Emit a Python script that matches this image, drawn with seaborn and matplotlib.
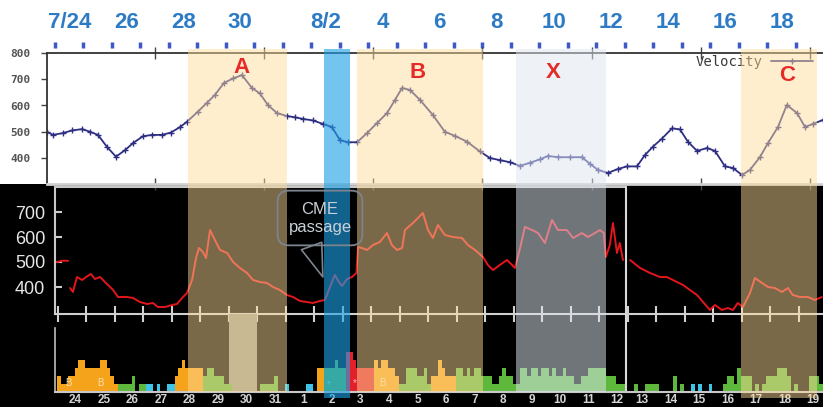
import numpy as np
import pandas as pd
import matplotlib
matplotlib.use("Agg")
import matplotlib.pyplot as plt
import matplotlib.ticker as mticker
from matplotlib.patches import Rectangle
import seaborn as sns

# ---------------- data ----------------
# day index: 0 = Jul 24 (start of day)
top_date_labels = ["7/24", "26", "28", "30", "8/2", "4", "6", "8", "10", "12", "14", "16", "18"]
top_date_days = [0, 2, 4, 6, 9, 11, 13, 15, 17, 19, 21, 23, 25]
day_boundaries = list(range(0, 27))
frame_tick_days = [3.5, 7.33, 11.16, 15.0, 18.84, 22.67, 26.5]

vel_days = [-0.28, -0.07, 0.28, 0.6, 0.95, 1.23, 1.51, 1.82, 2.14, 2.46, 2.74, 3.09, 3.4, 3.75,
            4.07, 4.39, 4.63, 5.02, 5.33, 5.61, 5.93, 6.25, 6.56, 6.91, 7.19, 7.47, 7.79, 8.14,
            8.42, 8.7, 9.05, 9.4, 9.72, 10.0, 10.28, 10.6, 10.95, 11.3, 11.65, 11.93, 12.18,
            12.46, 12.81, 13.26, 13.68, 14.04, 14.46, 14.91, 15.26, 15.61, 15.96, 16.32, 16.67,
            17.02, 17.3, 17.65, 18.07, 18.49, 18.77, 19.05, 19.4, 19.75, 20.07, 20.42, 20.7,
            20.98, 21.3, 21.65, 21.93, 22.21, 22.53, 22.88, 23.16, 23.51, 23.79, 24.11, 24.39,
            24.74, 25.02, 25.37, 25.68, 26.04, 26.32, 26.6, 26.95]
vel_kms = [500, 488, 495, 505, 510, 500, 488, 443, 405, 430, 457, 483, 488, 488,
           497, 518, 538, 577, 610, 640, 686, 703, 716, 667, 646, 602, 571, 560,
           555, 549, 543, 530, 518, 468, 460, 460, 495, 533, 571, 621, 667,
           659, 621, 564, 500, 484, 462, 425, 400, 392, 384, 370, 382,
           395, 408, 403, 403, 403, 378, 355, 343, 358, 368, 368, 411,
           443, 474, 513, 509, 462, 427, 438, 427, 368, 362, 335, 355,
           404, 457, 518, 602, 571, 518, 530, 545]

wind_a_days = [0.0, 0.25, 0.46]
wind_a_kms = [498, 505, 505]
wind_b_days = [0.53, 0.63, 0.77, 0.95, 1.09, 1.26, 1.40, 1.58, 1.75, 1.86, 2.04, 2.21, 2.53, 2.74,
               2.98, 3.23, 3.44, 3.61, 3.86, 4.11, 4.28, 4.46, 4.63, 4.81, 4.95, 5.05, 5.19, 5.30,
               5.44, 5.61, 5.79, 6.04, 6.25, 6.49, 6.74, 6.95, 7.19, 7.44, 7.65, 7.89, 8.14, 8.35,
               8.60, 8.84, 9.05, 9.30, 9.47, 9.65, 9.82, 9.96, 10.07, 10.25, 10.42, 10.58, 10.63,
               10.77, 10.95, 11.16, 11.40, 11.65, 11.82, 12.0, 12.18, 12.28, 12.56, 12.91, 13.09,
               13.26, 13.44, 13.68, 13.96, 14.28, 14.49, 14.74, 15.02, 15.19, 15.37, 15.61, 15.86,
               16.04, 16.14, 16.32, 16.49, 16.74, 16.95, 17.19, 17.44, 17.65, 17.96, 18.18, 18.49,
               18.70, 18.95, 19.12, 19.26, 19.33, 19.47, 19.58, 19.72, 19.82, 19.93]
wind_b_kms = [396, 380, 440, 428, 440, 452, 432, 440, 420, 408, 388, 360, 360, 356,
              340, 332, 336, 320, 320, 328, 332, 356, 376, 428, 516, 556, 540, 516,
              628, 588, 548, 536, 500, 476, 456, 428, 420, 416, 400, 388, 368, 360,
              344, 340, 336, 344, 348, 400, 448, 420, 404, 432, 440, 456, 560,
              556, 548, 568, 580, 616, 568, 548, 556, 628, 656, 696, 628,
              596, 648, 608, 600, 596, 568, 548, 520, 488, 468, 488, 508,
              488, 476, 556, 640, 628, 616, 576, 668, 628, 628, 596, 616,
              600, 616, 628, 616, 520, 568, 656, 536, 576, 508]
wind_c_days = [20.18, 20.53, 20.88, 21.23, 21.47, 21.68, 22.04, 22.28, 22.53, 22.74, 22.98, 23.16,
               23.40, 23.61, 23.79, 23.96, 24.14, 24.39, 24.56, 24.81, 25.02, 25.26, 25.51, 25.72,
               25.89, 26.14, 26.42, 26.67, 26.91]
wind_c_kms = [508, 476, 456, 440, 440, 428, 408, 388, 368, 340, 308, 328,
              308, 316, 308, 336, 320, 376, 436, 416, 400, 396, 380, 396,
              368, 360, 360, 348, 360]

bottom_day_labels = ["24", "25", "26", "27", "28", "29", "30", "31", "1", "2", "3", "4", "5", "6",
                     "7", "8", "9", "10", "11", "12", "13", "14", "15", "16", "17", "18", "19"]
# eight 3-hour activity levels per day, and the colour class of each bar
kp_levels = [
    [2, 1, 1, 2, 2, 3, 4, 4], [3, 3, 3, 3, 4, 4, 3, 2], [1, 1, 1, 1, 1, 2, 0, 1],
    [1, 1, 1, 0, 1, 0, 0, 1], [1, 2, 3, 4, 3, 3, 3, 3], [3, 2, 3, 3, 2, 2, 2, 1],
    [1, 0, 0, 0, 0, 0, 0, 0], [0, 1, 1, 1, 1, 2, 0, 0], [1, 0, 0, 0, 0, 0, 1, 1],
    [0, 3, 3, 3, 3, 3, 4, 3], [3, 5, 5, 4, 3, 3, 3, 3], [3, 4, 3, 4, 4, 3, 3, 2],
    [1, 1, 3, 3, 3, 2, 2, 3], [1, 2, 2, 4, 3, 2, 2, 2], [3, 3, 2, 3, 2, 3, 3, 2],
    [2, 2, 1, 1, 2, 3, 2, 2], [1, 1, 3, 3, 2, 3, 3, 2], [3, 3, 2, 3, 2, 2, 3, 2],
    [2, 1, 1, 2, 2, 3, 3, 3], [3, 3, 2, 2, 2, 1, 1, 1], [0, 0, 1, 0, 0, 1, 1, 1],
    [1, 0, 0, 0, 0, 2, 0, 1], [0, 0, 1, 0, 1, 0, 0, 1], [0, 0, 0, 1, 2, 2, 1, 3],
    [2, 2, 2, 0, 1, 0, 1, 2], [2, 2, 3, 3, 3, 2, 0, 1], [0, 0, 0, 2, 2, 2, 1, 1]]
kp_classes = ["OOOOOOOO", "OOOOOOOO", "OGGGGGGG", "GCCCCCCC", "COOOOOOO", "OGGGGGGG",
              "GGGGGGGG", "GGGGGGGG", "CCCCCCCC", "OOOGGGGG", "GRRRRRRR", "ROOOOOOO",
              "GGGGGGGG", "GOOOOOOO", "GGGGGGGG", "GGGGGGGG", "GGGGGGGG", "GGGGGGGG",
              "GGGGGGGG", "GGGGGGGG", "GGGGGGGG", "GGGGGGGG", "CCCCCCCC", "GGGGGGGG",
              "GGGGGGGG", "GGGGGGGG", "GGGGGGGG"]
gap_days = [6]

bar_mark_text = ["B", "B", "B", "+", "*"]
bar_mark_days = [0.47, 1.58, 11.5, 9.58, 10.53]

band_names = ["A", "CME", "B", "X", "C"]
band_start = [4.67, 9.44, 10.6, 16.18, 24.07]
band_end = [8.14, 10.35, 15.02, 19.33, 26.74]
band_kind = ["yellow", "blue", "yellow", "gray", "yellow"]
band_below_axis = [False, True, False, False, True]
letter_text = ["A", "B", "X", "C"]
letter_days = [6.56, 12.74, 17.47, 25.68]
letter_kms = [743, 724, 724, 716]

# ---------------- style ----------------
sns.set_theme(style="white")
plt.rcParams["font.family"] = ["Liberation Sans", "DejaVu Sans"]

W, H = 823, 407
fig = plt.figure(figsize=(W / 100, H / 100), dpi=100)
fig.patch.set_facecolor("white")
fig.patches.append(Rectangle((0, 0), 1, 1 - 184 / H, transform=fig.transFigure,
                             fc="black", ec="none", zorder=-1))

ax_top = fig.add_axes([47 / W, 1 - 184.25 / H, 776 / W, 131.25 / H])
ax_mid = fig.add_axes([55 / W, 1 - 314 / H, 768 / W, 130 / H])
ax_bot = fig.add_axes([55 / W, 1 - 392 / H, 768 / W, 78 / H])

XMAX = 26.95
band_style = {"yellow": ("#FFDD9A", 0.48), "blue": ("#1EA0E6", 0.62), "gray": ("#DEE6F0", 0.51)}
kp_palette = {"O": "#F6A31C", "G": "#5DB83C", "C": "#3FC3E8", "R": "#E3202A"}

# ---- top panel: velocity ----
ax_top.set_facecolor("white")
sns.lineplot(x=vel_days, y=vel_kms, ax=ax_top, sort=False, color="#2e2f82", lw=1.3,
             marker="+", markersize=4.5, mew=1.0, mec="#2e2f82", zorder=2, label="Velocity")
ax_top.set_xlim(-0.28, XMAX)
ax_top.set_ylim(300, 800)
ax_top.set_xlabel("")
ax_top.set_ylabel("")
ax_top.set_yticks([400, 500, 600, 700, 800])
ax_top.tick_params(axis="y", direction="out", length=4, width=1, color="#444444",
                   labelsize=8, labelcolor="#555555", pad=8, left=True)
for t in ax_top.get_yticklabels():
    t.set_fontfamily("DejaVu Sans Mono")
    t.set_fontweight("bold")
ax_top.set_xticks(frame_tick_days)
ax_top.tick_params(axis="x", which="major", direction="inout", length=8, width=1,
                   color="#444444", top=True, bottom=True, labelbottom=False, labeltop=False)
for s in ["top", "left"]:
    ax_top.spines[s].set_color("#333333")
    ax_top.spines[s].set_linewidth(1.3)
ax_top.spines["bottom"].set_color("#d0d0d0")
ax_top.spines["bottom"].set_linewidth(2)
ax_top.spines["right"].set_visible(False)

sec = ax_top.secondary_xaxis(1 + 5 / 131.25)
sec.spines["top"].set_visible(False)
sec.set_xticks(day_boundaries)
sec.xaxis.set_major_formatter(mticker.NullFormatter())
sec.set_xticks([d + 0.5 for d in top_date_days], labels=top_date_labels, minor=True)
sec.tick_params(which="major", direction="out", length=4.5, width=2.5, color="#3f58c8")
sec.tick_params(which="minor", length=0, pad=11, labelsize=16, labelcolor="#2d7bc4")
for t in sec.get_xticklabels(minor=True):
    t.set_fontweight("bold")

h, l = ax_top.get_legend_handles_labels()
leg = ax_top.legend(h[:1], ["Velocity"], loc="center right", bbox_to_anchor=(0.987, 0.931),
                    markerfirst=False, frameon=False, handlelength=3.0, handletextpad=0.6,
                    borderpad=0, borderaxespad=0,
                    prop={"family": "DejaVu Sans Mono", "size": 10})
leg.set_zorder(2.6)
for t in leg.get_texts():
    t.set_color("#3a3a3a")

for txt, d, v in zip(letter_text, letter_days, letter_kms):
    ax_top.text(d, v, txt, color="#e52a2a", fontsize=16, fontweight="bold",
                ha="center", va="center", zorder=6)

# ---- middle panel: solar wind ----
ax_mid.set_facecolor("none")
wind_df = pd.concat([
    pd.DataFrame({"day": wind_a_days, "kms": wind_a_kms, "seg": 0}),
    pd.DataFrame({"day": wind_b_days, "kms": wind_b_kms, "seg": 1}),
    pd.DataFrame({"day": wind_c_days, "kms": wind_c_kms, "seg": 2}),
])
sns.lineplot(data=wind_df, x="day", y="kms", units="seg", estimator=None, ax=ax_mid,
             color="#e3161c", lw=1.4, zorder=2, legend=False)
ax_mid.set_xlim(0, XMAX)
ax_mid.set_ylim(292, 812)
ax_mid.set_xlabel("")
ax_mid.set_ylabel("")
ax_mid.set_yticks([400, 500, 600, 700])
ax_mid.tick_params(axis="y", direction="in", length=5, width=1.5, color="#cccccc",
                   labelcolor="#e6e6e6", labelsize=13, pad=7, left=True)
ax_mid.set_xticks([k + 0.1 for k in day_boundaries])
ax_mid.tick_params(axis="x", direction="inout", length=12, width=1.5, color="#d0d0d0",
                   labelbottom=False, bottom=True)
ax_mid.spines["left"].set_color("#c8c8c8")
ax_mid.spines["left"].set_linewidth(1.5)
ax_mid.spines["left"].set_bounds(292, 800)
ax_mid.spines["bottom"].set_color("#d0d0d0")
ax_mid.spines["bottom"].set_linewidth(1.5)
ax_mid.spines["top"].set_visible(False)
ax_mid.spines["right"].set_visible(False)
sep_day = 20.04
ax_mid.axhline(800, xmin=0, xmax=sep_day / XMAX, color="#c8c8c8", lw=1.5, zorder=2)
ax_mid.axvline(sep_day, ymin=0, ymax=(800 - 292) / 520, color="#d8d8d8", lw=1.5, zorder=2)

ax_mid.annotate("CME\npassage", xy=(9.4, 440), xytext=(9.3, 676), ha="center", va="center",
                fontsize=12, color="#c9d0d8", linespacing=1.25, zorder=6,
                bbox=dict(boxstyle="round,pad=0.65", fc="none", ec="#7c848e", lw=1.3),
                arrowprops=dict(arrowstyle="wedge,tail_width=1.3,shrink_factor=0.5",
                                fc="none", ec="#7c848e", lw=1.2, relpos=(0.3, 0.0),
                                shrinkA=0, shrinkB=0))

# ---- bottom panel: activity bars ----
ax_bot.set_facecolor("none")
rows = []
for di, (levels, classes) in enumerate(zip(kp_levels, kp_classes)):
    for si, (lv, cl) in enumerate(zip(levels, classes)):
        if lv > 0:
            rows.append((di + si / 8, lv, cl))
kp_df = pd.DataFrame(rows, columns=["start", "level", "cls"])
ax_bot.bar(kp_df["start"] + 0.07, kp_df["level"], width=0.125, align="edge",
           color=[kp_palette[c] for c in kp_df["cls"]], linewidth=0, zorder=2)
ax_bot.bar([g + 0.1 for g in gap_days], [9.75] * len(gap_days), width=1.0, align="edge",
           color="#96998b", linewidth=0, zorder=1)
for txt, d in zip(bar_mark_text, bar_mark_days):
    col = {"B": "#f7e2b4", "+": "#a8dcf2", "*": "#ffb6c4"}[txt]
    ax_bot.text(d, 1.1, txt, color=col, fontsize=7, ha="center", va="center", zorder=2.4)
ax_bot.set_xlim(0, XMAX)
ax_bot.set_ylim(0, 9.75)
ax_bot.set_yticks([])
label_pos = [k + 0.5 + (0.22 if k < 20 else 0.1) for k in day_boundaries]
ax_bot.set_xticks(label_pos, labels=bottom_day_labels)
ax_bot.tick_params(axis="x", length=0, pad=1.2, labelsize=8.5, labelcolor="#d4d4d4")
for t in ax_bot.get_xticklabels():
    t.set_fontweight("bold")
ax_bot.spines["left"].set_color("#bdbdbd")
ax_bot.spines["left"].set_linewidth(1.2)
ax_bot.spines["left"].set_bounds(0, 8)
ax_bot.spines["bottom"].set_color("#c8c8c8")
ax_bot.spines["bottom"].set_linewidth(1.5)
ax_bot.spines["top"].set_visible(False)
ax_bot.spines["right"].set_visible(False)
ax_bot.axvline(sep_day, ymin=0, ymax=1, color="#d8d8d8", lw=1.5, zorder=2)

# ---- highlight bands (semi-transparent overlays across all panels) ----
for s, e, kind, below in zip(band_start, band_end, band_kind, band_below_axis):
    c, a = band_style[kind]
    ax_top.axvspan(s, e, ymin=0, ymax=1 + 4 / 131.25, color=c, alpha=a, lw=0,
                   zorder=3, clip_on=False)
    ax_mid.axvspan(s, e, ymin=0, ymax=1, color=c, alpha=a, lw=0, zorder=3)
    ax_bot.axvspan(s, e, ymin=(-6 / 78 if below else 0), ymax=1, color=c, alpha=a, lw=0,
                   zorder=3, clip_on=False)

fig.savefig("out.png", dpi=100, facecolor=fig.get_facecolor())
